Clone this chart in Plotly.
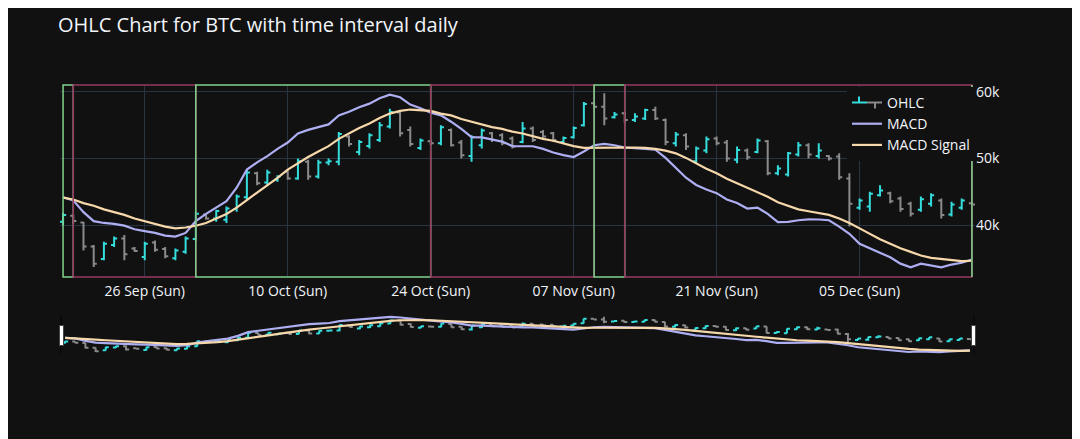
import plotly.graph_objects as go
import pandas as pd

dates = pd.date_range("2021-09-18", periods=90, freq="D")

open_k = [40.5, 41.4, 40.4, 36.8, 34.9, 37.0, 38.0, 36.5, 35.2, 37.4,
          36.4, 35.0, 36.0, 37.9, 41.6, 41.0, 40.8, 42.4, 44.2, 47.8,
          46.4, 46.8, 48.0, 47.0, 49.5, 47.3, 49.4, 49.5, 53.3, 51.0,
          51.9, 52.8, 54.8, 56.9, 54.3, 51.6, 52.6, 52.3, 54.3, 52.4,
          50.4, 52.0, 53.8, 53.5, 53.0, 52.5, 54.5, 54.0, 53.8, 52.5,
          53.2, 55.0, 58.3, 57.8, 56.2, 56.8, 55.8, 56.0, 57.3, 55.8,
          52.3, 53.5, 49.6, 51.2, 53.0, 52.4, 49.8, 51.2, 51.0, 52.6,
          47.8, 47.6, 50.6, 52.0, 50.4, 50.4, 50.3, 47.0, 42.6, 42.8,
          44.5, 44.8, 44.0, 43.2, 42.3, 43.2, 43.7, 41.6, 42.6, 43.3]
high_k = [41.8, 41.6, 40.5, 37.0, 37.5, 38.3, 38.5, 36.7, 37.5, 37.7,
          36.7, 36.5, 38.3, 42.0, 41.7, 42.3, 42.8, 44.6, 48.3, 48.0,
          48.3, 47.5, 48.3, 50.0, 49.8, 49.8, 50.0, 54.0, 53.5, 52.8,
          53.8, 55.5, 57.5, 57.3, 54.8, 53.0, 52.8, 55.0, 54.5, 52.8,
          53.5, 54.5, 54.0, 53.8, 53.3, 55.5, 54.8, 54.3, 54.0, 53.3,
          54.8, 58.5, 58.5, 59.8, 57.0, 57.0, 56.8, 57.5, 57.8, 56.0,
          54.0, 53.8, 51.8, 53.3, 53.3, 52.8, 51.8, 51.5, 53.0, 52.8,
          49.0, 51.0, 52.5, 52.3, 52.3, 50.5, 50.8, 47.8, 44.0, 45.0,
          46.0, 45.0, 44.3, 43.5, 44.3, 44.8, 44.0, 43.5, 44.0, 43.5]
low_k = [40.0, 40.2, 36.2, 33.7, 34.7, 36.7, 34.7, 36.0, 34.7, 36.0,
         35.0, 34.7, 35.7, 37.7, 40.8, 40.5, 40.3, 42.0, 43.8, 46.0,
         46.0, 46.5, 46.8, 46.8, 46.8, 47.0, 49.0, 49.0, 51.8, 50.5,
         51.5, 52.5, 54.5, 53.3, 51.8, 51.3, 52.0, 52.0, 51.8, 50.0,
         49.5, 51.5, 52.5, 52.0, 51.5, 52.3, 52.5, 53.0, 52.5, 52.3,
         53.0, 54.8, 57.5, 55.0, 56.0, 55.3, 55.5, 55.8, 55.8, 52.0,
         51.8, 51.3, 49.3, 50.8, 52.0, 49.5, 49.3, 49.8, 50.8, 47.5,
         47.5, 47.3, 50.3, 50.0, 50.0, 49.7, 46.8, 39.8, 42.3, 42.0,
         44.3, 43.3, 42.0, 41.3, 42.0, 42.8, 41.0, 41.3, 42.3, 43.0]
close_k = [41.5, 40.6, 36.8, 34.2, 37.2, 38.0, 35.6, 36.1, 37.2, 36.3,
           35.3, 36.2, 38.0, 41.7, 41.0, 42.1, 42.5, 44.3, 47.9, 46.3,
           47.9, 47.3, 47.0, 49.6, 47.3, 49.4, 49.6, 53.7, 52.2, 52.5,
           53.5, 55.0, 57.0, 53.8, 52.2, 52.7, 52.3, 54.7, 52.0, 50.5,
           53.2, 54.2, 52.8, 52.3, 51.8, 54.5, 52.8, 53.3, 52.8, 53.1,
           54.6, 58.2, 57.8, 56.0, 56.6, 55.8, 56.3, 57.3, 56.0, 52.5,
           53.6, 51.8, 51.5, 52.9, 52.3, 50.0, 51.3, 50.2, 52.7, 47.8,
           48.5, 50.8, 52.0, 50.6, 51.2, 50.0, 47.2, 43.2, 43.7, 44.7,
           45.2, 43.6, 42.4, 41.7, 43.9, 44.5, 41.5, 43.1, 43.7, 43.1]

macd = [-612, -735, -1190, -1540, -1610, -1645, -1715, -1855, -1925, -1995,
        -2100, -2135, -1995, -1540, -1260, -1015, -770, -245, 455, 735,
        980, 1260, 1505, 1855, 1995, 2100, 2205, 2555, 2695, 2870,
        3010, 3220, 3360, 3255, 2975, 2835, 2660, 2555, 2310, 2030,
        1715, 1705, 1610, 1540, 1365, 1370, 1360, 1260, 1120, 1015,
        945, 1155, 1400, 1452, 1400, 1312, 1278, 1260, 1225, 910,
        525, 140, -140, -315, -455, -700, -840, -1050, -1015, -1260,
        -1575, -1570, -1505, -1470, -1475, -1505, -1750, -2030, -2415, -2590,
        -2765, -2940, -3185, -3325, -3185, -3255, -3330, -3220, -3150, -3028]
signal = [-630, -700, -840, -945, -1085, -1190, -1295, -1435, -1540, -1645,
          -1750, -1820, -1785, -1715, -1610, -1435, -1260, -1015, -735, -420,
          -140, 140, 455, 700, 945, 1155, 1365, 1645, 1855, 2065,
          2240, 2450, 2625, 2730, 2782, 2765, 2730, 2625, 2555, 2415,
          2310, 2205, 2100, 2030, 1925, 1855, 1750, 1645, 1575, 1470,
          1365, 1295, 1300, 1305, 1312, 1330, 1312, 1295, 1260, 1190,
          1085, 910, 700, 490, 315, 105, -70, -245, -420, -595,
          -805, -945, -1085, -1155, -1225, -1295, -1435, -1610, -1820, -2030,
          -2240, -2415, -2590, -2730, -2870, -2958, -3010, -3056, -3090, -3073]

tick_labels_fmt = "%d %b (%a)"

open_ = [v * 1000 for v in open_k]
high = [v * 1000 for v in high_k]
low = [v * 1000 for v in low_k]
close = [v * 1000 for v in close_k]

fig = go.Figure()
fig.add_trace(go.Ohlc(
    x=dates, open=open_, high=high, low=low, close=close, name="OHLC",
    increasing=dict(line=dict(color="#35dcdc", width=2)),
    decreasing=dict(line=dict(color="#8a8a8a", width=2)),
    yaxis="y"))
fig.add_trace(go.Scatter(x=dates, y=macd, mode="lines", name="MACD",
                         line=dict(color="#aeaef2", width=2.2), yaxis="y2"))
fig.add_trace(go.Scatter(x=dates, y=signal, mode="lines", name="MACD Signal",
                         line=dict(color="#f6d8ab", width=2.2), yaxis="y2"))

# crossover regions derived from MACD vs signal
above = [m > s for m, s in zip(macd, signal)]
segments = []
start = 0
for i in range(1, len(above)):
    if above[i] != above[i - 1]:
        segments.append((start, i, above[start]))
        start = i
segments.append((start, len(above) - 1, above[start]))

for s, e, up in segments:
    fig.add_shape(type="rect", xref="x", yref="paper",
                  x0=dates[s], x1=dates[e], y0=0, y1=1,
                  line=dict(color="#7fd38c" if up else "#973862", width=1.5),
                  fillcolor="rgba(0,0,0,0)")

fig.update_layout(
    template="plotly_dark",
    width=1080, height=439,
    margin=dict(l=52, r=113, t=77, b=93),
    paper_bgcolor="#111111", plot_bgcolor="#111111",
    font=dict(size=14),
    title=dict(text="OHLC Chart for BTC with time interval daily",
               x=0.0463, xanchor="left", y=0.9613, yanchor="middle",
               font=dict(size=20)),
    legend=dict(x=1, xanchor="right", y=0.99, yanchor="top",
                bgcolor="#111111", font=dict(size=14)),
    xaxis=dict(
        type="date",
        range=["2021-09-17 16:48", "2021-12-16 07:12"],
        tickformat=tick_labels_fmt,
        dtick=14 * 86400000, tick0="2021-09-26",
        showgrid=True, tickfont=dict(size=14),
        ticklabelstandoff=4,
        rangeslider=dict(visible=True, thickness=0.145, bgcolor="#111111"),
    ),
    yaxis=dict(side="right", range=[32200, 61050], dtick=10000, tick0=0,
               showgrid=True, zeroline=False, tickfont=dict(size=14)),
    yaxis2=dict(overlaying="y", side="left", showgrid=False, zeroline=False,
                showticklabels=False, visible=False),
)

fig.write_html("out.html")
